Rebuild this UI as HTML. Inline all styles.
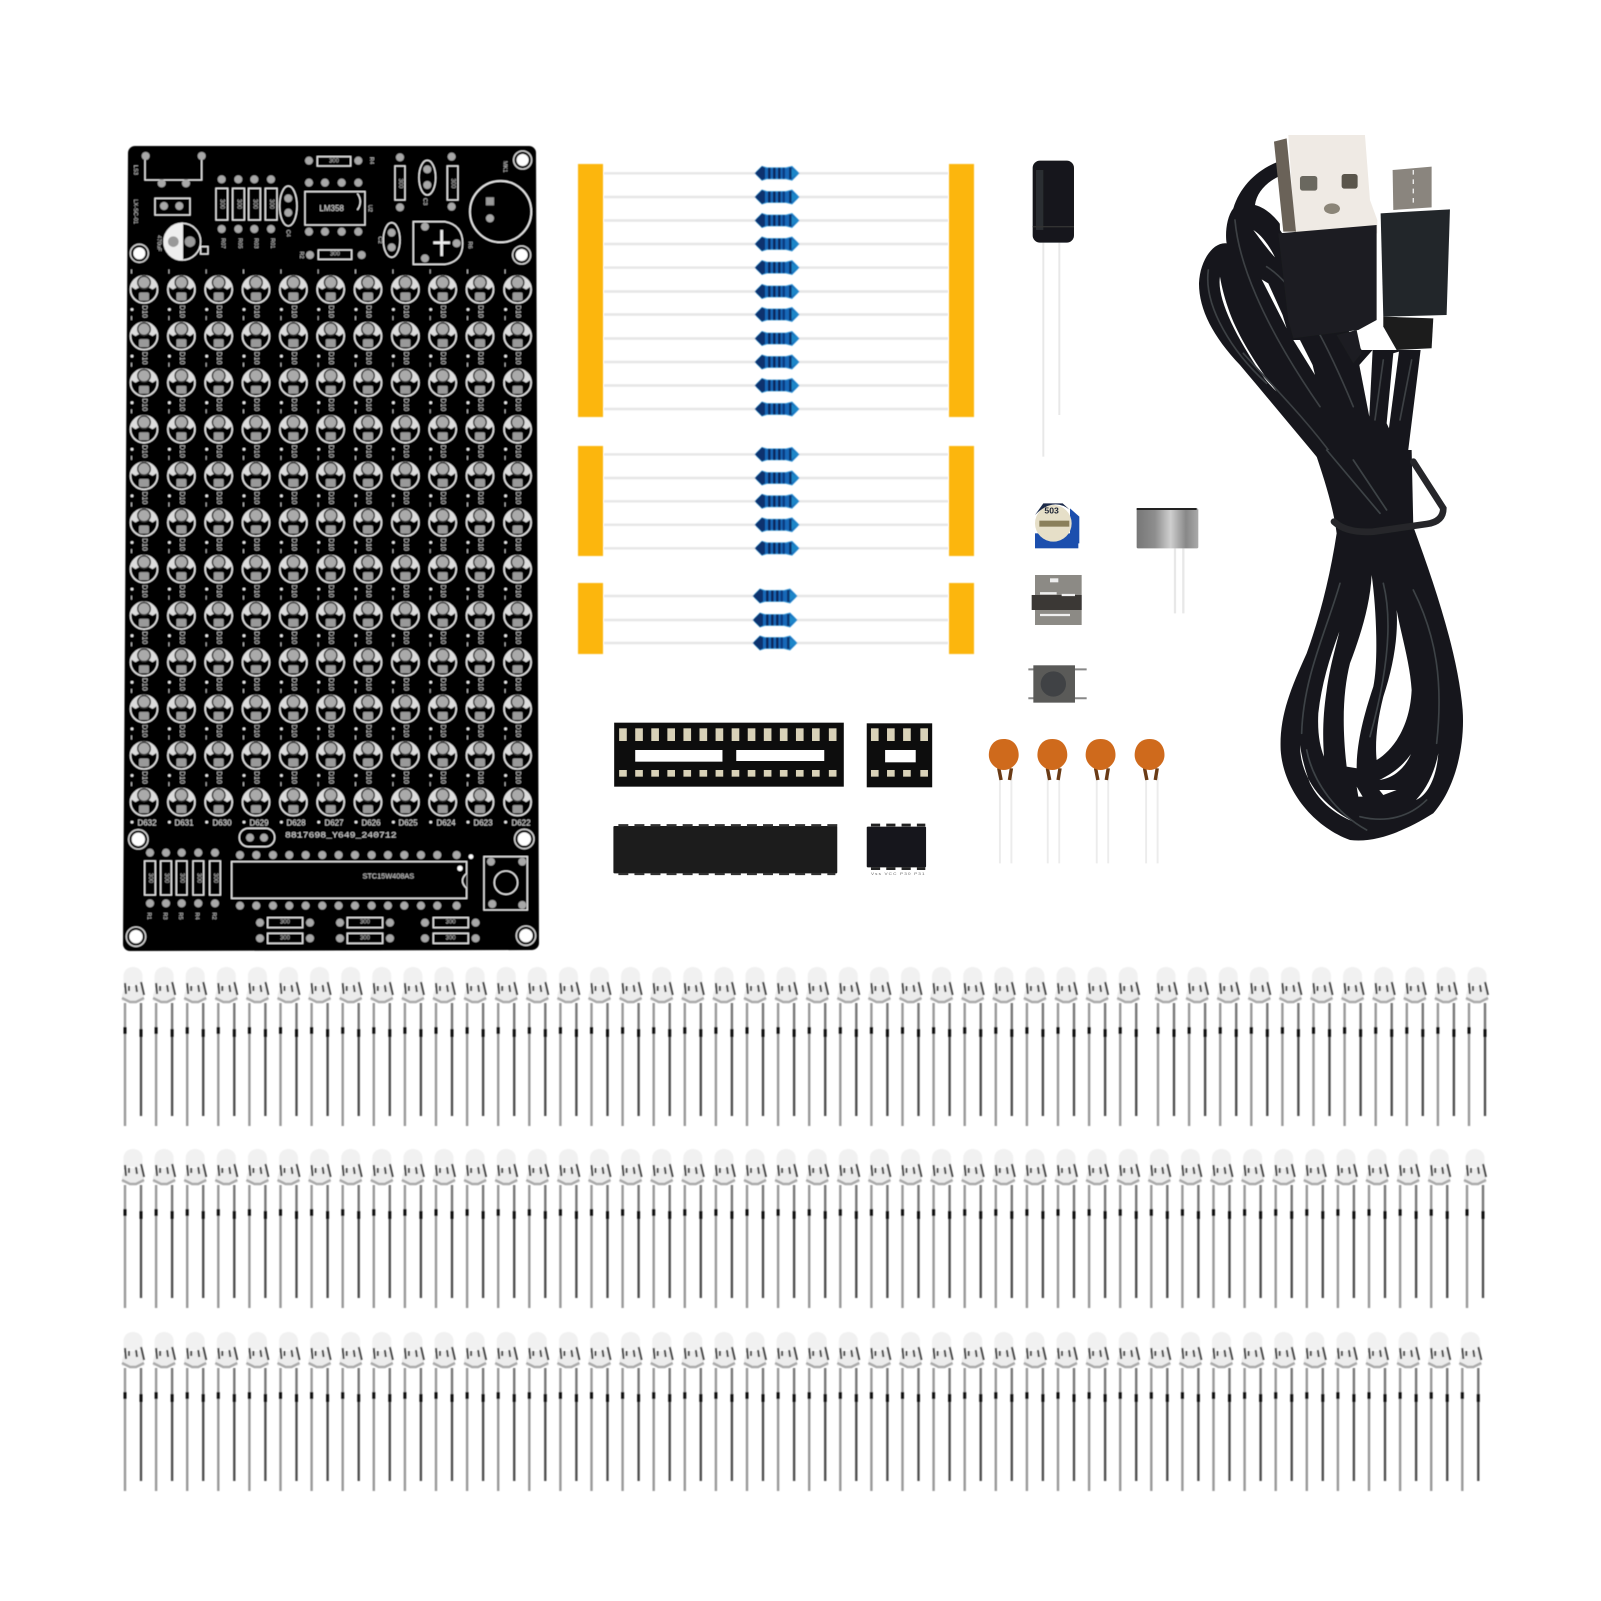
<!DOCTYPE html>
<html><head><meta charset="utf-8"><title>LED spectrum kit</title>
<style>html,body{margin:0;padding:0;background:#fff;overflow:hidden}svg{display:block;font-family:"Liberation Sans",sans-serif}</style></head>
<body>
<svg width="1601" height="1601" viewBox="0 0 1601 1601" xmlns="http://www.w3.org/2000/svg">
<defs>
<filter id="b" x="-5%" y="-5%" width="110%" height="110%"><feGaussianBlur stdDeviation=".55"/></filter>
<linearGradient id="mic" x1="0" x2="1" y1="0" y2="0"><stop offset="0" stop-color="#777"/><stop offset=".3" stop-color="#8e8e8e"/><stop offset=".55" stop-color="#cfcfcf"/><stop offset=".8" stop-color="#888"/><stop offset="1" stop-color="#aaa"/></linearGradient>
<g id="cc"><circle r="13.5" fill="#000" stroke="#e4e4e4" stroke-width="1.6"/><path d="M-13,-3A13.5,13.5 0 0 1 13,-3L8.5,0Q0,-6 -8.5,0Z" fill="#dcdcdc"/><circle cy="-7" r="7" fill="#333"/><circle cy="-7" r="5.5" fill="#aaa"/><rect x="-5" y="3" width="10" height="8" rx="1.5" fill="#999"/><circle cx="-12" cy="20" r="1.4" fill="#eee"/><rect x="-13" y="-20" width="1" height="4" fill="#bbb"/></g>
<g id="c"><use href="#cc"/><text transform="translate(0,22) rotate(90)" font-size="7" text-anchor="middle" dominant-baseline="central" fill="#ccc">D10</text></g>
<g id="brow"><use href="#c" x="0"/><use href="#c" x="37.4"/><use href="#c" x="74.7"/><use href="#c" x="112"/><use href="#c" x="149.4"/><use href="#c" x="186.7"/><use href="#c" x="224"/><use href="#c" x="261.4"/><use href="#c" x="298.7"/><use href="#c" x="336"/><use href="#c" x="373.6"/></g>
<g id="res"><path d="M-22,0L-15,-7L-10,-5.5H9L15,-7L22,0L15,7L9,5.5H-10L-15,7Z" fill="#1668b8" stroke="#3a9ad9" stroke-width=".8"/><path d="M-22,0L-15,-7L-12,-5.5V5.5L-15,7Z" fill="#08326e"/><rect x="-9" y="-5.5" width="2.6" height="11" fill="#08285c"/><rect x="-4" y="-5.5" width="2.6" height="11" fill="#08285c"/><rect x="1" y="-5.5" width="2.6" height="11" fill="#08285c"/><rect x="5.5" y="-5.5" width="2.4" height="11" fill="#0d3a80"/><path d="M12,-6.5L22,0L12,6.5Z" fill="#1b86c9"/><rect x="12" y="-6" width="2.6" height="12" fill="#0a3570"/></g>
<g id="l"><path d="M-9.5,18V9C-9.5,-3 9.5,-3 9.5,9V18Z" fill="#f1f1f1"/><path d="M-8,19L-11,28L-11,34H11L11,28L8,19Z" fill="#ececec"/><path d="M-8,16L-7,27M-4,19V24M3,18L4,25M8,15L11,28" stroke="#444" stroke-width="2" fill="none"/><path d="M-11,31L-3,35H3L11,31" stroke="#aaa" stroke-width="2.6" fill="none"/><path d="M-8,36V159" stroke="#999" stroke-width="2.4"/><path d="M8,36V149" stroke="#777" stroke-width="2.4"/><path d="M8,66V149" stroke="#4c4c4c" stroke-width="2"/><path d="M-8,60V67M8,62V70" stroke="#111" stroke-width="3"/></g>
<g id="r10"><use href="#l" x="0"/><use href="#l" x="31.1"/><use href="#l" x="62.2"/><use href="#l" x="93.3"/><use href="#l" x="124.4"/><use href="#l" x="155.5"/><use href="#l" x="186.6"/><use href="#l" x="217.7"/><use href="#l" x="248.8"/><use href="#l" x="279.9"/></g>
<g id="r11"><use href="#r10"/><use href="#l" x="311"/></g>
<g id="r33"><use href="#r11"/><use href="#r11" x="342.1"/><use href="#r11" x="684.2"/></g>
<circle id="p" r="12" fill="#a8a8a8"/>
<text id="t300" font-size="18" text-anchor="middle" dominant-baseline="central" fill="#bbb" stroke="none">300</text>
</defs>
<rect width="1601" height="1601" fill="#fff"/>

<!-- PCB -->
<g filter="url(#b)">
<path d="M135,153L529,153L532,943L130,944Z" fill="#000" stroke="#000" stroke-width="14" stroke-linejoin="round"/>
<g transform="translate(144,289.5)">
<use href="#brow"/><use href="#brow" y="46.6"/><use href="#brow" y="93.2"/><use href="#brow" y="139.8"/><use href="#brow" y="186.4"/><use href="#brow" y="233"/><use href="#brow" y="279.6"/><use href="#brow" y="326.2"/><use href="#brow" y="372.8"/><use href="#brow" y="419.4"/><use href="#brow" y="466"/>
<g transform="translate(0,512.6)"><use href="#cc"/><use href="#cc" x="37.4"/><use href="#cc" x="74.7"/><use href="#cc" x="112"/><use href="#cc" x="149.4"/><use href="#cc" x="186.7"/><use href="#cc" x="224"/><use href="#cc" x="261.4"/><use href="#cc" x="298.7"/><use href="#cc" x="336"/><use href="#cc" x="373.6"/></g>
<g font-size="8" fill="#ddd" text-anchor="middle"><text x="3" y="536">D632</text><text x="40" y="536">D631</text><text x="78" y="536">D630</text><text x="115" y="536">D629</text><text x="152" y="536">D628</text><text x="190" y="536">D627</text><text x="227" y="536">D626</text><text x="264" y="536">D625</text><text x="302" y="536">D624</text><text x="339" y="536">D623</text><text x="377" y="536">D622</text></g>
</g>
<!-- top area, zoom coordinates -->
<g transform="translate(110,130) scale(.3333)" fill="none" stroke="#eee" stroke-width="4">
<path d="M105,75V150H275V75"/><rect x="135" y="205" width="105" height="50"/>
<g stroke="none"><use href="#p" x="107" y="78"/><use href="#p" x="275" y="78"/><use href="#p" x="155" y="160"/><use href="#p" x="228" y="160"/><use href="#p" x="162" y="228"/><use href="#p" x="208" y="228"/></g>
<circle cx="217" cy="335" r="55"/><path d="M217,280A55,55 0 0 0 217,390Z" fill="#eee"/><circle cx="190" cy="335" r="16" fill="#999" stroke="none"/><circle cx="240" cy="335" r="16" fill="#999" stroke="none"/><rect x="272" y="350" width="22" height="22"/>
<rect x="318" y="175" width="35" height="95"/><rect x="368" y="175" width="35" height="95"/><rect x="416" y="175" width="35" height="95"/><rect x="466" y="175" width="35" height="95"/>
<use href="#t300" transform="translate(335,222) rotate(90)"/><use href="#t300" transform="translate(385,222) rotate(90)"/><use href="#t300" transform="translate(433,222) rotate(90)"/><use href="#t300" transform="translate(483,222) rotate(90)"/>
<use href="#t300" transform="translate(870,160) rotate(90)"/><use href="#t300" transform="translate(1028,160) rotate(90)"/><use href="#t300" x="672" y="94"/><use href="#t300" x="675" y="374"/>
<g stroke="none"><use href="#p" x="335" y="148"/><use href="#p" x="385" y="148"/><use href="#p" x="433" y="148"/><use href="#p" x="483" y="148"/><use href="#p" x="335" y="297"/><use href="#p" x="385" y="297"/><use href="#p" x="433" y="297"/><use href="#p" x="483" y="297"/></g>
<ellipse cx="535" cy="228" rx="26" ry="60"/><use href="#p" x="535" y="205" stroke="none"/><use href="#p" x="535" y="248" stroke="none"/>
<rect x="585" y="185" width="180" height="100"/><path d="M742,190Q760,215 742,240" fill="#000"/>
<text x="665" y="243" font-size="24" text-anchor="middle" fill="#ddd" stroke="none">LM358</text>
<g stroke="none"><use href="#p" x="597" y="158"/><use href="#p" x="645" y="158"/><use href="#p" x="695" y="158"/><use href="#p" x="745" y="158"/><use href="#p" x="597" y="305"/><use href="#p" x="645" y="305"/><use href="#p" x="695" y="305"/><use href="#p" x="745" y="305"/></g>
<rect x="622" y="80" width="100" height="28"/><rect x="625" y="360" width="100" height="28"/>
<g stroke="none"><use href="#p" x="597" y="92"/><use href="#p" x="745" y="92"/><use href="#p" x="600" y="375"/><use href="#p" x="755" y="375"/></g>
<rect x="855" y="108" width="30" height="102"/><rect x="1012" y="108" width="32" height="102"/>
<g stroke="none"><use href="#p" x="870" y="82"/><use href="#p" x="870" y="232"/><use href="#p" x="1025" y="80"/><use href="#p" x="1025" y="230"/></g>
<ellipse cx="952" cy="143" rx="25" ry="52"/><use href="#p" x="952" y="118" stroke="none"/><use href="#p" x="952" y="165" stroke="none"/>
<ellipse cx="845" cy="330" rx="25" ry="52"/><use href="#p" x="845" y="308" stroke="none"/><use href="#p" x="845" y="352" stroke="none"/>
<path d="M910,275H1005Q1058,285 1058,340Q1058,395 1005,403H910Z"/><path d="M995,300V378M970,338H1020" stroke-width="8"/>
<g stroke="none"><use href="#p" x="945" y="290"/><use href="#p" x="1040" y="340"/><use href="#p" x="945" y="385"/></g>
<circle cx="1172" cy="245" r="92" stroke-width="5"/><rect x="1128" y="202" width="24" height="24" fill="#999" stroke="none"/><use href="#p" x="1140" y="265" stroke="none"/>
<circle cx="88" cy="370" r="27" stroke="#ddd"/><circle cx="88" cy="370" r="18" fill="#fff" stroke="none"/>
<circle cx="1238" cy="90" r="27" stroke="#ddd"/><circle cx="1238" cy="90" r="18" fill="#fff" stroke="none"/>
<circle cx="1235" cy="375" r="27" stroke="#ddd"/><circle cx="1235" cy="375" r="18" fill="#fff" stroke="none"/>
<g fill="#ccc" stroke="none" font-size="17" text-anchor="middle"><text transform="translate(72,120) rotate(90)">LS3</text><text transform="translate(72,245) rotate(90)">LX-SC-01</text><text transform="translate(142,340) rotate(90)">470uF</text><text transform="translate(335,340) rotate(90)">R07</text><text transform="translate(385,340) rotate(90)">R05</text><text transform="translate(433,340) rotate(90)">R03</text><text transform="translate(483,340) rotate(90)">R01</text><text transform="translate(530,310) rotate(90)">C4</text><text transform="translate(780,92) rotate(90)">R4</text><text transform="translate(775,235) rotate(90)">U2</text><text transform="translate(570,375) rotate(90)">R2</text><text transform="translate(940,215) rotate(90)">C3</text><text transform="translate(805,330) rotate(90)">C2</text><text transform="translate(1180,110) rotate(90)">MK1</text><text transform="translate(1075,345) rotate(90)">R6</text></g>
</g>
<!-- bottom area, zoom coordinates -->
<g transform="translate(110,760) scale(.3333)" fill="none" stroke="#eee" stroke-width="4">
<rect x="388" y="205" width="106" height="55" rx="27"/><use href="#p" x="420" y="233" stroke="none"/><use href="#p" x="462" y="233" stroke="none"/>
<text x="525" y="232" font-size="24" font-family="Liberation Mono" fill="#ddd" stroke="none" textLength="335" lengthAdjust="spacingAndGlyphs">8817698_Y649_240712</text>
<rect x="365" y="305" width="705" height="110"/><path d="M1070,340Q1045,362 1070,385" fill="#000"/><circle cx="1050" cy="325" r="8" fill="#fff" stroke="none"/><circle cx="1083" cy="290" r="7" fill="#fff" stroke="none"/>
<text x="835" y="355" font-size="22" text-anchor="middle" fill="#ccc" stroke="none">STC15W408AS</text>
<g stroke="none"><use href="#p" x="390" y="285"/><use href="#p" x="439" y="285"/><use href="#p" x="489" y="285"/><use href="#p" x="538" y="285"/><use href="#p" x="587" y="285"/><use href="#p" x="637" y="285"/><use href="#p" x="686" y="285"/><use href="#p" x="735" y="285"/><use href="#p" x="785" y="285"/><use href="#p" x="834" y="285"/><use href="#p" x="883" y="285"/><use href="#p" x="933" y="285"/><use href="#p" x="982" y="285"/><use href="#p" x="1040" y="285"/><use href="#p" x="390" y="437"/><use href="#p" x="439" y="437"/><use href="#p" x="489" y="437"/><use href="#p" x="538" y="437"/><use href="#p" x="587" y="437"/><use href="#p" x="637" y="437"/><use href="#p" x="686" y="437"/><use href="#p" x="735" y="437"/><use href="#p" x="785" y="437"/><use href="#p" x="834" y="437"/><use href="#p" x="883" y="437"/><use href="#p" x="933" y="437"/><use href="#p" x="982" y="437"/><use href="#p" x="1040" y="437"/></g>
<rect x="104" y="303" width="32" height="102"/><rect x="152" y="303" width="32" height="102"/><rect x="199" y="303" width="32" height="102"/><rect x="249" y="303" width="32" height="102"/><rect x="299" y="303" width="32" height="102"/>
<use href="#t300" transform="translate(120,354) rotate(90)"/><use href="#t300" transform="translate(168,354) rotate(90)"/><use href="#t300" transform="translate(215,354) rotate(90)"/><use href="#t300" transform="translate(265,354) rotate(90)"/><use href="#t300" transform="translate(315,354) rotate(90)"/>
<use href="#t300" x="525" y="488"/><use href="#t300" x="765" y="488"/><use href="#t300" x="1022" y="488"/><use href="#t300" x="525" y="535"/><use href="#t300" x="765" y="535"/><use href="#t300" x="1022" y="535"/>
<g stroke="none"><use href="#p" x="120" y="278"/><use href="#p" x="168" y="278"/><use href="#p" x="215" y="278"/><use href="#p" x="265" y="278"/><use href="#p" x="315" y="278"/><use href="#p" x="120" y="430"/><use href="#p" x="168" y="430"/><use href="#p" x="215" y="430"/><use href="#p" x="265" y="430"/><use href="#p" x="315" y="430"/></g>
<g fill="#ccc" stroke="none" font-size="17" text-anchor="middle"><text transform="translate(112,468) rotate(90)">R1</text><text transform="translate(160,468) rotate(90)">R3</text><text transform="translate(207,468) rotate(90)">R5</text><text transform="translate(257,468) rotate(90)">R4</text><text transform="translate(307,468) rotate(90)">R2</text></g>
<rect x="1122" y="290" width="130" height="160"/><circle cx="1188" cy="368" r="35"/>
<g stroke="none"><use href="#p" x="1143" y="305"/><use href="#p" x="1237" y="305"/><use href="#p" x="1147" y="432"/><use href="#p" x="1237" y="435"/></g>
<rect x="473" y="473" width="105" height="30"/><rect x="712" y="473" width="106" height="30"/><rect x="970" y="473" width="105" height="30"/><rect x="473" y="520" width="105" height="30"/><rect x="712" y="520" width="106" height="30"/><rect x="970" y="520" width="105" height="30"/>
<g stroke="none"><use href="#p" x="450" y="488"/><use href="#p" x="600" y="488"/><use href="#p" x="690" y="488"/><use href="#p" x="840" y="488"/><use href="#p" x="945" y="488"/><use href="#p" x="1097" y="488"/><use href="#p" x="450" y="535"/><use href="#p" x="600" y="535"/><use href="#p" x="690" y="535"/><use href="#p" x="840" y="535"/><use href="#p" x="945" y="535"/><use href="#p" x="1097" y="535"/></g>
<circle cx="85" cy="238" r="29" stroke="#ddd"/><circle cx="85" cy="238" r="20" fill="#fff" stroke="none"/>
<circle cx="1243" cy="237" r="29" stroke="#ddd"/><circle cx="1243" cy="237" r="20" fill="#fff" stroke="none"/>
<circle cx="78" cy="530" r="29" stroke="#ddd"/><circle cx="78" cy="530" r="20" fill="#fff" stroke="none"/>
<circle cx="1248" cy="527" r="29" stroke="#ddd"/><circle cx="1248" cy="527" r="20" fill="#fff" stroke="none"/>
</g>
</g>

<!-- resistors -->
<g filter="url(#b)">
<g stroke="#e6e6e6" stroke-width="2.4">
<path d="M604,173.3H948M604,197H948M604,220.5H948M604,244H948M604,267.6H948M604,291.5H948M604,314.5H948M604,338.5H948M604,362H948M604,385.5H948M604,409H948"/>
<path d="M604,454.4H948M604,478H948M604,501.3H948M604,524.8H948M604,548.3H948"/>
<path d="M604,596H948M604,620H948M604,643H948"/>
</g>
<g fill="#fcb60d"><rect x="578" y="164" width="25" height="253"/><rect x="949" y="164" width="25" height="253"/><rect x="578" y="446" width="25" height="110"/><rect x="949" y="446" width="25" height="110"/><rect x="578" y="583" width="25" height="71"/><rect x="949" y="583" width="25" height="71"/></g>
<g transform="translate(777,0)"><use href="#res" y="173.3"/><use href="#res" y="197"/><use href="#res" y="220.5"/><use href="#res" y="244"/><use href="#res" y="267.6"/><use href="#res" y="291.5"/><use href="#res" y="314.5"/><use href="#res" y="338.5"/><use href="#res" y="362"/><use href="#res" y="385.5"/><use href="#res" y="409"/></g>
<g transform="translate(777,0)"><use href="#res" y="454.4"/><use href="#res" y="478"/><use href="#res" y="501.3"/><use href="#res" y="524.8"/><use href="#res" y="548.3"/></g>
<g transform="translate(775,0)"><use href="#res" y="596"/><use href="#res" y="620"/><use href="#res" y="643"/></g>
</g>

<!-- electrolytic cap -->
<g transform="translate(1000,120) scale(.3333)" filter="url(#b)">
<path d="M130,368V1010" stroke="#e8e8e8" stroke-width="6"/><path d="M178,368V885" stroke="#e8e8e8" stroke-width="6"/>
<rect x="98" y="122" width="124" height="246" rx="22" fill="#17181a"/><rect x="108" y="150" width="22" height="180" fill="#2c2d30"/><path d="M98,320H222" stroke="#333" stroke-width="4"/>
</g>

<!-- small parts -->
<g transform="translate(1020,480) scale(.3333)" filter="url(#b)">
<rect x="45" y="160" width="130" height="45" fill="#1b4fae"/><path d="M150,85L178,110V190H150Z" fill="#1b4fae"/>
<circle cx="100" cy="130" r="55" fill="#e6dfc8"/><path d="M45,105Q100,50 150,90L128,70H70Z" fill="#1a2a4a"/><rect x="58" y="122" width="90" height="18" fill="#8a7f5a"/>
<text x="95" y="100" font-size="26" font-weight="bold" fill="#1a2030" text-anchor="middle">503</text>
<path d="M465,205V400M490,205V400" stroke="#e8e8e8" stroke-width="7"/>
<rect x="350" y="85" width="185" height="120" rx="4" fill="url(#mic)"/><path d="M350,87H530" stroke="#222" stroke-width="6"/>
<rect x="45" y="285" width="140" height="150" fill="#8c8a85"/><rect x="35" y="345" width="150" height="45" fill="#3a3835"/><path d="M60,340H110M125,345H165M60,405H150" stroke="#eee" stroke-width="7"/><rect x="90" y="295" width="25" height="12" fill="#eee"/>
<path d="M25,568H200M25,655H200" stroke="#888" stroke-width="6"/><rect x="40" y="556" width="125" height="112" fill="#5a5a58"/><circle cx="100" cy="612" r="38" fill="#3f4244"/>
</g>

<!-- IC sockets, chips, ceramic caps (x 2.61x, y 3x zoom coordinates) -->
<g transform="translate(600,700) scale(.3827,.3333)" filter="url(#b)">
<rect x="37" y="68" width="600" height="192" fill="#0b0b0b"/><rect x="92" y="150" width="228" height="35" fill="#fff"/><rect x="356" y="150" width="230" height="33" fill="#fff"/>
<g fill="#d9d2b8"><rect x="50" y="85" width="20" height="38"/><rect x="92" y="85" width="20" height="38"/><rect x="134" y="85" width="20" height="38"/><rect x="176" y="85" width="20" height="38"/><rect x="218" y="85" width="20" height="38"/><rect x="260" y="85" width="20" height="38"/><rect x="302" y="85" width="20" height="38"/><rect x="344" y="85" width="20" height="38"/><rect x="386" y="85" width="20" height="38"/><rect x="428" y="85" width="20" height="38"/><rect x="470" y="85" width="20" height="38"/><rect x="512" y="85" width="20" height="38"/><rect x="554" y="85" width="20" height="38"/><rect x="598" y="85" width="20" height="38"/>
<rect x="50" y="210" width="20" height="20"/><rect x="92" y="210" width="20" height="20"/><rect x="134" y="210" width="20" height="20"/><rect x="176" y="210" width="20" height="20"/><rect x="218" y="210" width="20" height="20"/><rect x="260" y="210" width="20" height="20"/><rect x="302" y="210" width="20" height="20"/><rect x="344" y="210" width="20" height="20"/><rect x="386" y="210" width="20" height="20"/><rect x="428" y="210" width="20" height="20"/><rect x="470" y="210" width="20" height="20"/><rect x="512" y="210" width="20" height="20"/><rect x="554" y="210" width="20" height="20"/><rect x="598" y="210" width="20" height="20"/></g>
<rect x="697" y="70" width="171" height="192" fill="#0b0b0b"/><rect x="745" y="150" width="80" height="37" fill="#fff"/>
<g fill="#d9d2b8"><rect x="708" y="85" width="20" height="38"/><rect x="750" y="85" width="20" height="38"/><rect x="792" y="85" width="20" height="38"/><rect x="837" y="85" width="20" height="38"/><rect x="708" y="210" width="20" height="20"/><rect x="750" y="210" width="20" height="20"/><rect x="792" y="210" width="20" height="20"/><rect x="837" y="210" width="20" height="20"/></g>
<rect x="35" y="378" width="585" height="142" rx="3" fill="#1c1c1e"/>
<path d="M48,376H620M48,522H615" stroke="#333" stroke-width="7" stroke-dasharray="26 16"/>
<rect x="697" y="380" width="155" height="122" rx="3" fill="#17181a"/>
<path d="M708,375H850M708,506H850" stroke="#222" stroke-width="8" stroke-dasharray="24 16"/>
<text x="708" y="525" font-size="12" fill="#666" textLength="140">Vss VCC P30 P31</text>
<g stroke="#ececec" stroke-width="5"><path d="M1045,230V490M1075,230V490M1170,230V490M1200,230V490M1298,230V490M1328,230V490M1427,230V490M1457,230V490"/></g>
<g id="cap"><path d="M1042,205L1048,240M1075,205L1070,240" stroke="#6a3a14" stroke-width="9"/><path d="M1055,117C1085,117 1094,145 1094,165C1094,190 1075,210 1055,210C1035,210 1016,190 1016,165C1016,145 1025,117 1055,117Z" fill="#cf6a1c"/></g>
<use href="#cap" x="127"/><use href="#cap" x="253"/><use href="#cap" x="381"/>
</g>

<!-- USB cable top -->
<g transform="translate(1000,120) scale(.3333)" filter="url(#b)">
<path d="M835,125C770,150 720,200 700,265C680,290 675,340 680,370C640,365 600,420 597,490C597,570 640,650 720,735C800,830 900,950 1000,1070L1215,1070L1262,690L1085,690L840,330Z" fill="#17191b"/>
<g fill="#fff">
<path d="M835,170C795,190 770,220 765,255C800,265 825,290 850,325Z"/>
<path d="M760,330C775,350 800,385 825,412C810,380 785,345 760,330Z"/>
<path d="M660,470C650,530 700,640 790,770C800,785 815,800 830,815C780,750 720,660 690,580C675,540 665,500 660,470Z"/>
<path d="M785,478L860,625L848,585L805,490Z"/>
<path d="M880,660L945,765L938,735L900,660Z"/>
<path d="M1078,735L1118,690L1108,890Z"/>
<path d="M1180,700L1197,695L1167,925L1160,910Z"/>
</g>
<g fill="none" stroke="#3c4044" stroke-width="5" stroke-linecap="round">
<path d="M705,300C715,420 780,600 960,860"/><path d="M625,450C610,560 700,700 800,790"/><path d="M800,440C880,490 960,620 1060,860"/><path d="M730,700C820,800 920,900 1000,1010"/><path d="M1150,720L1125,900"/><path d="M1235,720L1200,900"/>
</g>
<path d="M865,45H1095L1110,240L1132,300V340H885Z" fill="#efeae4"/>
<path d="M822,65L860,55L888,335L850,335Z" fill="#6a6258"/>
<rect x="900" y="168" width="52" height="44" rx="8" fill="#6b675e"/><rect x="1025" y="162" width="48" height="44" rx="8" fill="#5a554c"/><ellipse cx="996" cy="266" rx="24" ry="16" fill="#8b8578"/>
<path d="M835,340L1130,315V600L1075,630L880,655L865,600Z" fill="#1c1e20"/>
<path d="M1010,645L1070,630L1085,700L1060,730Z" fill="#1c1e20"/>
<path d="M1178,150L1295,140V262L1180,270Z" fill="#8a857e"/><path d="M1240,150V262" stroke="#eee" stroke-width="4" stroke-dasharray="14 14"/>
<path d="M1142,280L1350,268L1340,585L1150,590Z" fill="#22262a"/>
<path d="M1150,590L1300,595L1295,685L1190,690L1150,620Z" fill="#1a1c1e"/>
</g>
<!-- USB cable lower loops -->
<g transform="translate(1180,450) scale(.3333)" filter="url(#b)">
<path d="M410,20C430,80 460,170 470,250C450,380 420,500 380,610C330,720 298,800 302,900C310,1020 400,1130 510,1170C590,1180 680,1140 760,1090C830,1010 855,880 848,780C835,620 770,420 700,230L695,0L395,0Z" fill="#17191b"/>
<g fill="#fff">
<path d="M478,545C450,620 425,700 415,790C412,850 420,890 432,920C428,860 428,800 440,720C450,650 465,600 478,545Z"/>
<path d="M575,375C570,470 540,560 510,640C490,720 485,820 500,950L530,955C530,880 550,800 580,710C595,640 590,480 575,375Z"/>
<path d="M650,480C655,560 640,650 610,740C590,820 585,880 590,930C640,900 690,830 695,720C690,640 665,560 650,480Z"/>
<path d="M693,912C670,945 640,970 598,990C640,985 675,955 693,912Z"/>
<path d="M598,1020L650,1020L610,1035Z"/>
<path d="M775,910C765,960 745,1010 708,1050C745,1035 770,980 775,910Z"/>
<path d="M360,885C360,960 400,1050 520,1115C470,1095 420,1060 390,1000C375,960 365,920 360,885Z"/>
<path d="M530,1010L548,1040L535,1040Z"/>
</g>
<g fill="none" stroke="#3e4246" stroke-width="5" stroke-linecap="round">
<path d="M480,400C440,540 370,680 365,850"/><path d="M610,400C640,520 620,680 570,860"/><path d="M700,420C770,560 790,700 770,880"/><path d="M440,0L600,190"/><path d="M540,1100C620,1120 690,1100 740,1050"/><path d="M520,30L620,180"/><path d="M380,900C400,1000 470,1090 560,1140"/>
</g>
<path d="M700,35L790,175Q790,215 740,222L580,245Q500,250 462,215" fill="none" stroke="#26282b" stroke-width="20" stroke-linecap="round"/>
</g>

<!-- LEDs -->
<g filter="url(#b)">
<g transform="translate(133,967)"><use href="#r33"/><use href="#r11" x="1033"/></g>
<g transform="translate(133,1149)"><use href="#r33"/><use href="#r10" x="1026.3"/><use href="#l" x="1342"/></g>
<g transform="translate(133,1332)"><use href="#r33"/><use href="#r11" x="1026.3"/></g>
</g>
</svg>
</body></html>
